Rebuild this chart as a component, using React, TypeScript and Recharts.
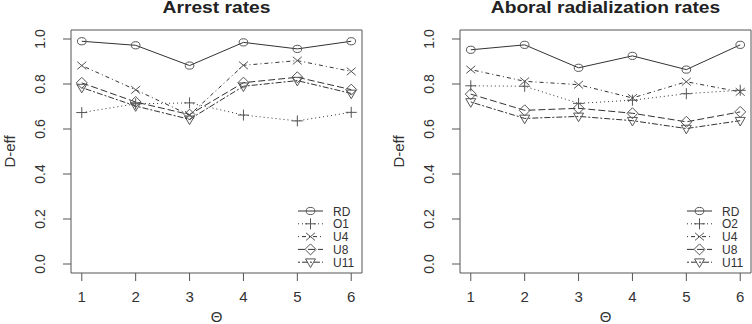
import React from "react";
import { LineChart, Line, XAxis, YAxis, ReferenceArea, Legend, Label } from "recharts";

const theta = [1, 2, 3, 4, 5, 6];
const yTicks = [0, 0.2, 0.4, 0.6, 0.8, 1.0];

// Arrest rates
const arrestRD = [0.99, 0.972, 0.882, 0.985, 0.956, 0.99];
const arrestO1 = [0.673, 0.712, 0.716, 0.662, 0.636, 0.674];
const arrestU4 = [0.882, 0.774, 0.662, 0.883, 0.904, 0.856];
const arrestU8 = [0.805, 0.72, 0.664, 0.806, 0.83, 0.775];
const arrestU11 = [0.784, 0.702, 0.643, 0.79, 0.815, 0.758];

// Aboral radialization rates
const aboralRD = [0.952, 0.974, 0.872, 0.925, 0.864, 0.974];
const aboralO2 = [0.792, 0.79, 0.714, 0.728, 0.757, 0.772];
const aboralU4 = [0.864, 0.812, 0.797, 0.738, 0.81, 0.765];
const aboralU8 = [0.755, 0.683, 0.692, 0.67, 0.632, 0.676];
const aboralU11 = [0.72, 0.647, 0.656, 0.637, 0.602, 0.637];

const arrestNames = ["RD", "O1", "U4", "U8", "U11"];
const aboralNames = ["RD", "O2", "U4", "U8", "U11"];

const dashes = [undefined, "1 3", "1 3 4 3", "7 3", "2 2 6 2"];
const markers = ["circle", "plus", "cross", "diamond", "triangle"];

const FONT = "'Liberation Sans', Arial, Helvetica, sans-serif";
const INK = "#333";
const MARK = "#555";

function Marker({ kind, cx, cy }: { kind: string; cx: number; cy: number }) {
  const common = { fill: "none", stroke: MARK, strokeWidth: 1 };
  switch (kind) {
    case "circle":
      return <ellipse cx={cx} cy={cy} rx={4.3} ry={3.6} {...common} />;
    case "plus":
      return <path d={`M${cx - 5.5},${cy}H${cx + 5.5}M${cx},${cy - 5.5}V${cy + 5.5}`} {...common} />;
    case "cross":
      return (
        <path
          d={`M${cx - 4.5},${cy - 3.8}L${cx + 4.5},${cy + 3.8}M${cx - 4.5},${cy + 3.8}L${cx + 4.5},${cy - 3.8}`}
          {...common}
        />
      );
    case "diamond":
      return <path d={`M${cx},${cy - 5.5}L${cx + 5.5},${cy}L${cx},${cy + 5.5}L${cx - 5.5},${cy}Z`} {...common} />;
    default:
      return <path d={`M${cx - 5},${cy - 3.3}L${cx + 5},${cy - 3.3}L${cx},${cy + 5.3}Z`} {...common} />;
  }
}

const YTick = (props: any) => {
  const { x, y, payload } = props;
  return (
    <text
      x={x}
      y={y}
      transform={`rotate(-90, ${x}, ${y})`}
      textAnchor="middle"
      fill={INK}
      fontSize={14}
      fontFamily={FONT}
    >
      {payload.value.toFixed(1)}
    </text>
  );
};

function LegendBox({ names }: { names: string[] }) {
  return (
    <svg width={80} height={68} style={{ display: "block" }}>
      {names.map((n, i) => {
        const y = 7 + i * 12.8;
        return (
          <g key={n}>
            <line x1={0} x2={25} y1={y} y2={y} stroke={INK} strokeDasharray={dashes[i]} />
            <Marker kind={markers[i]} cx={12.5} cy={y} />
            <text x={35} y={y + 4.5} fontSize={12} fill={INK} fontFamily={FONT}>
              {n}
            </text>
          </g>
        );
      })}
    </svg>
  );
}

function Panel({ title, names, series }: { title: string; names: string[]; series: number[][] }) {
  const rows = theta.map((t, i) => {
    const r: any = { theta: t };
    series.forEach((s, k) => (r["s" + k] = s[i]));
    return r;
  });

  return (
    <div style={{ position: "relative", width: 363, height: 324 }}>
      <div
        style={{
          position: "absolute",
          left: 71,
          width: 291,
          top: 0,
          lineHeight: "16px",
          textAlign: "center",
          fontFamily: FONT,
          fontWeight: 700,
          fontSize: 16,
          color: "#222",
          transform: "scaleX(1.2)",
        }}
      >
        {title}
      </div>
      <LineChart width={363} height={324} data={rows} margin={{ top: 30, right: 1, bottom: 0, left: 0 }}>
        <XAxis
          dataKey="theta"
          type="number"
          domain={[0.8, 6.2]}
          ticks={theta}
          axisLine={false}
          tickSize={8}
          tickMargin={10}
          height={51}
          tickLine={{ stroke: MARK }}
          tick={{ fill: INK, fontSize: 15, fontFamily: FONT }}
        >
          <Label
            content={(p: any) => (
              <text
                x={p.viewBox.x + p.viewBox.width / 2}
                y={p.viewBox.y + 49}
                textAnchor="middle"
                fontSize={15}
                fill={INK}
                fontFamily={FONT}
              >
                Θ
              </text>
            )}
          />
        </XAxis>
        <YAxis
          type="number"
          domain={[-0.04, 1.04]}
          ticks={yTicks}
          width={71}
          axisLine={false}
          tickSize={8}
          tickMargin={18}
          tickLine={{ stroke: MARK }}
          tick={<YTick />}
        >
          <Label
            content={(p: any) => {
              const cx = 15;
              const cy = p.viewBox.y + p.viewBox.height / 2;
              return (
                <text
                  x={cx}
                  y={cy}
                  transform={`rotate(-90, ${cx}, ${cy})`}
                  textAnchor="middle"
                  fontSize={15}
                  fill={INK}
                  fontFamily={FONT}
                >
                  D-eff
                </text>
              );
            }}
          />
        </YAxis>
        <ReferenceArea x1={0.8} x2={6.2} y1={-0.04} y2={1.04} fill="none" stroke={MARK} strokeWidth={1} />
        {series.map((_, k) => (
          <Line
            key={k}
            dataKey={"s" + k}
            name={names[k]}
            stroke={INK}
            strokeWidth={1}
            strokeDasharray={dashes[k]}
            isAnimationActive={false}
            dot={(p: any) => <Marker key={p.index} kind={markers[k]} cx={p.cx} cy={p.cy} />}
            activeDot={false}
          />
        ))}
        <Legend
          layout="horizontal"
          verticalAlign="middle"
          align="center"
          wrapperStyle={{ position: "absolute", left: 298, top: 204, width: 80 }}
          content={() => <LegendBox names={names} />}
        />
      </LineChart>
    </div>
  );
}

export default function App() {
  return (
    <div style={{ position: "absolute", left: 0, top: 0, width: 752, height: 324, background: "#fff" }}>
      <div style={{ position: "absolute", left: 0, top: 0 }}>
        <Panel title="Arrest rates" names={arrestNames} series={[arrestRD, arrestO1, arrestU4, arrestU8, arrestU11]} />
      </div>
      <div style={{ position: "absolute", left: 389, top: 0 }}>
        <Panel
          title="Aboral radialization rates"
          names={aboralNames}
          series={[aboralRD, aboralO2, aboralU4, aboralU8, aboralU11]}
        />
      </div>
    </div>
  );
}
